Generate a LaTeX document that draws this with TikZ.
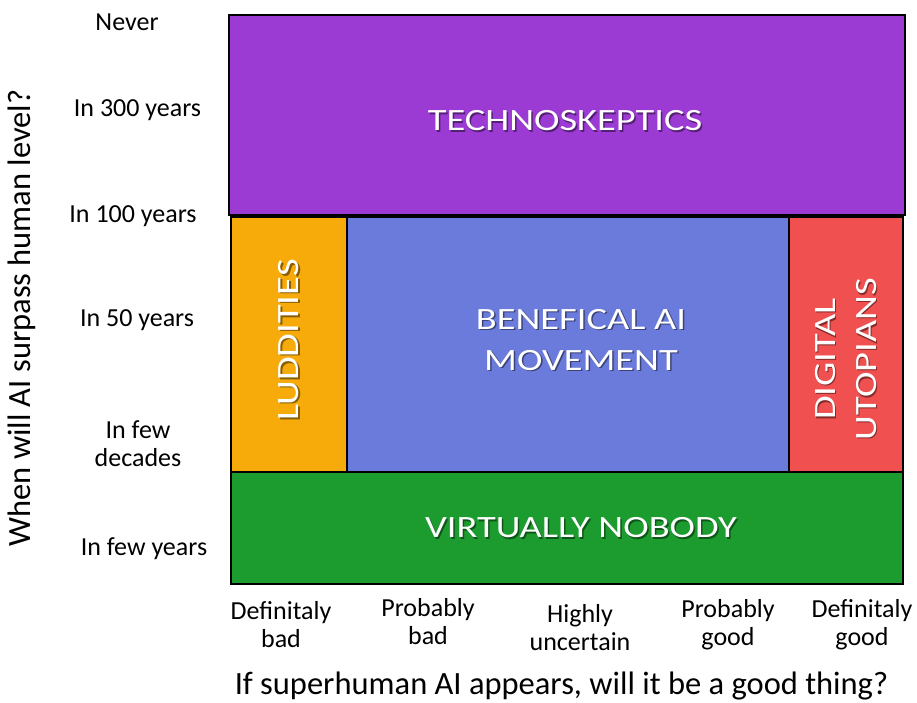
\documentclass[tikz,border=0pt]{standalone}
\usepackage{fontspec}
\setmainfont{Carlito}
\definecolor{cPurple}{RGB}{155,59,212}
\definecolor{cOrange}{RGB}{246,171,10}
\definecolor{cBlue}{RGB}{106,123,219}
\definecolor{cRed}{RGB}{240,80,80}
\definecolor{cGreen}{RGB}{28,156,46}
\tikzset{
  region/.style={draw=black, line width=2pt, inner sep=0pt, outer sep=0pt, rectangle},
  boxlabel/.style={text=white, font=\fontsize{31}{41}\selectfont, align=center, inner sep=0pt},
  boxshadow/.style={boxlabel, text=black, text opacity=0.45},
  axislabel/.style={font=\fontsize{26}{28}\selectfont, align=center, inner sep=0pt},
  axistitle/.style={font=\fontsize{32.5}{36}\selectfont, inner sep=0pt}
}
\newcommand{\wide}[1]{\scalebox{1.24}[1]{#1}}
\begin{document}
\begin{tikzpicture}[x=1pt, y=-1pt]
\useasboundingbox (0,0) rectangle (917,702);
% regions
\node[region, fill=cPurple, minimum width=676pt, minimum height=200pt] (tech) at (567,115) {};
\node[region, fill=cOrange, minimum width=116pt, minimum height=255pt] (lud) at (289,344.5) {};
\node[region, fill=cBlue, minimum width=442pt, minimum height=255pt] (ben) at (568,344.5) {};
\node[region, fill=cRed, minimum width=114pt, minimum height=255pt] (dig) at (846,344.5) {};
\node[region, fill=cGreen, minimum width=672pt, minimum height=112pt] (nob) at (567,528) {};
% region labels (shadow + text)
\node[boxshadow] (techS) at (566.5,122.5) {\wide{TECHNOSKEPTICS}};
\node[boxlabel] (techL) at (565,121) {\wide{TECHNOSKEPTICS}};
\node[boxshadow] (benS) at (582.5,341.5) {\wide{BENEFICAL AI}\\\wide{MOVEMENT}};
\node[boxlabel] (benL) at (581,340) {\wide{BENEFICAL AI}\\\wide{MOVEMENT}};
\node[boxshadow, rotate=90] (ludS) at (290.5,341.5) {\wide{LUDDITIES}};
\node[boxlabel, rotate=90] (ludL) at (289,340) {\wide{LUDDITIES}};
\node[boxshadow, rotate=90] (digS) at (847.5,360.5) {\wide{DIGITAL}\\\wide{UTOPIANS}};
\node[boxlabel, rotate=90] (digL) at (846,359) {\wide{DIGITAL}\\\wide{UTOPIANS}};
\node[boxshadow] (nobS) at (582.5,529.5) {\wide{VIRTUALLY NOBODY}};
\node[boxlabel] (nobL) at (581,528) {\wide{VIRTUALLY NOBODY}};
% y axis labels
\node[axislabel] (yNever) at (127,22) {Never};
\node[axislabel] (y300) at (137.5,110) {In 300 years};
\node[axislabel] (y100) at (133,216) {In 100 years};
\node[axislabel] (y50) at (137,320) {In 50 years};
\node[axislabel] (yDec) at (138,444) {In few\\decades};
\node[axislabel] (yYears) at (144,549) {In few years};
\node[axistitle, rotate=90] (ytitle) at (22,318) {When will AI surpass human level?};
% x axis labels
\node[axislabel] (xDefBad) at (281,625) {Definitaly\\bad};
\node[axislabel] (xProbBad) at (428,622) {Probably\\bad};
\node[axislabel] (xUnc) at (580,628) {Highly\\uncertain};
\node[axislabel] (xProbGood) at (728,625) {Probably\\good};
\node[axislabel] (xDefGood) at (862,625) {Definitaly\\good};
\node[axistitle, anchor=base] (xtitle) at (561.5,694.5) {If superhuman AI appears, will it be a good thing?};
\end{tikzpicture}
\end{document}
